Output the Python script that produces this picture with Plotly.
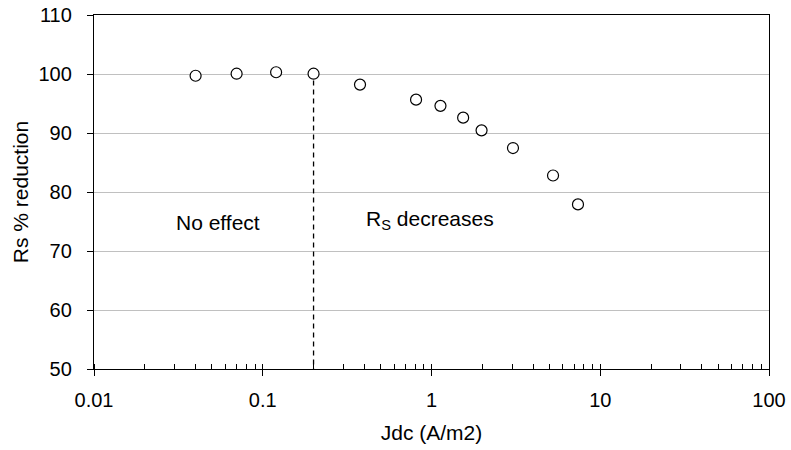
import plotly.graph_objects as go

jdc = [0.04, 0.07, 0.12, 0.2, 0.377, 0.81, 1.13, 1.54, 1.98, 3.04, 5.25, 7.38]
rs_reduction = [99.7, 100.05, 100.3, 100.05, 98.2, 95.65, 94.6, 92.6, 90.45, 87.45, 82.8, 77.9]

threshold_x = [0.2, 0.2]
threshold_y = [98.9, 50]

x_tickvals = [0.01, 0.1, 1, 10, 100]
x_ticktext = ["0.01", "0.1", "1", "10", "100"]
y_tickvals = [50, 60, 70, 80, 90, 100, 110]

FONT = "Arial, Liberation Sans, sans-serif"

fig = go.Figure()

fig.add_trace(go.Scatter(
    x=threshold_x, y=threshold_y, mode="lines",
    line=dict(color="black", width=1.3, dash="5px,4px"),
    showlegend=False, hoverinfo="skip"))

fig.add_trace(go.Scatter(
    x=jdc, y=rs_reduction, mode="markers",
    marker=dict(symbol="circle", size=11, color="white",
                line=dict(color="black", width=1.2)),
    showlegend=False))

# invisible trace on overlay axis for inside major ticks
fig.add_trace(go.Scatter(x=[0.01, 100], y=[50, 50], xaxis="x2", mode="markers",
                         marker=dict(opacity=0), showlegend=False, hoverinfo="skip"))

fig.update_layout(
    width=791, height=450,
    margin=dict(l=94, r=22, t=15, b=81),
    paper_bgcolor="white", plot_bgcolor="white",
    font=dict(family=FONT, size=20, color="black"),
    xaxis=dict(
        type="log", range=[-2, 2], automargin=False,
        tickvals=x_tickvals, ticktext=x_ticktext,
        ticks="outside", ticklen=6, tickwidth=1, tickcolor="black",
        ticklabelstandoff=7,
        minor=dict(ticks="inside", ticklen=5, tickcolor="black", tickwidth=1,
                   showgrid=False, dtick="D1"),
        showline=True, linecolor="black", linewidth=1.3, mirror=True,
        showgrid=False, zeroline=False,
        title=dict(text="Jdc (A/m2)", font=dict(size=21), standoff=15),
    ),
    xaxis2=dict(
        type="log", range=[-2, 2], overlaying="x", side="bottom",
        tickvals=x_tickvals, ticks="inside", ticklen=5, tickcolor="black",
        showticklabels=False, showline=False, showgrid=False, zeroline=False,
    ),
    yaxis=dict(
        range=[50, 110], tickvals=y_tickvals, automargin=False,
        ticks="outside", ticklen=6, tickcolor="black",
        ticklabelstandoff=11,
        showline=True, linecolor="black", linewidth=1.3, mirror=True,
        showgrid=True, gridcolor="#c0c0c0", gridwidth=1, zeroline=False,
        title=dict(text="Rs % reduction", font=dict(size=21), standoff=4),
    ),
    annotations=[
        dict(x=-1.264, y=74.8, xref="x", yref="y", text="No effect",
             showarrow=False, font=dict(size=21)),
        dict(x=-0.01, y=75.3, xref="x", yref="y", text="R<sub>S</sub> decreases",
             showarrow=False, font=dict(size=21)),
    ],
)

fig.write_html("out.html", config={"displayModeBar": False},
               post_script="document.body.style.margin='0';")
